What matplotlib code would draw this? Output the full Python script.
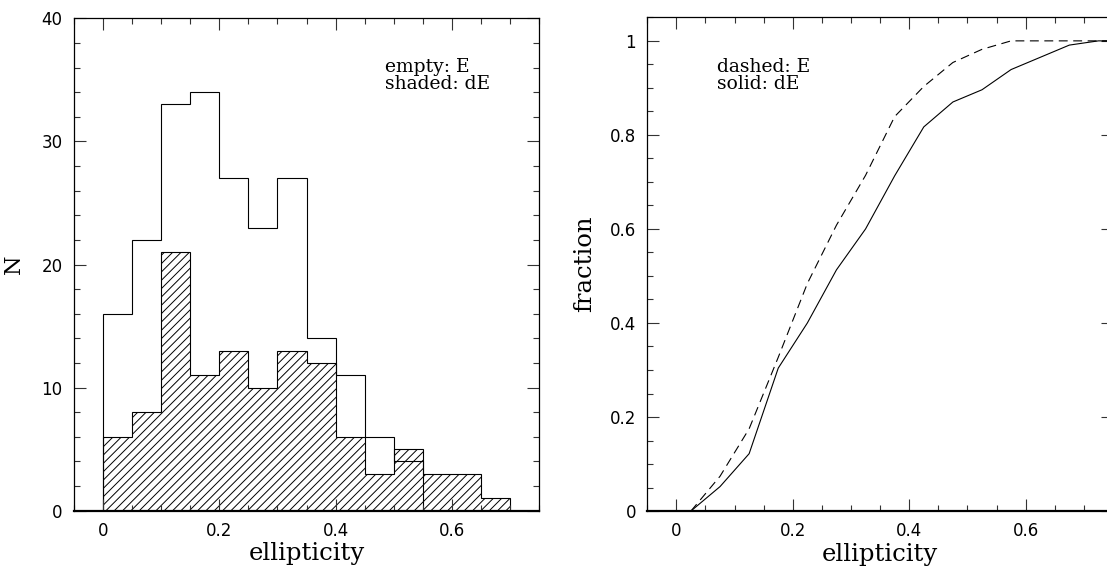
import numpy as np
import matplotlib
matplotlib.use("Agg")
import matplotlib.pyplot as plt

# ---- data ----
bin_edges = [0.0, 0.05, 0.10, 0.15, 0.20, 0.25, 0.30, 0.35, 0.40, 0.45, 0.50, 0.55, 0.60, 0.65, 0.70]
counts_E = [16, 22, 33, 34, 27, 23, 27, 14, 11, 6, 4]          # empty histogram (E), bins 0 .. 0.55
counts_dE = [6, 8, 21, 11, 13, 10, 13, 12, 6, 3, 5, 3, 3, 1]   # shaded histogram (dE), bins 0 .. 0.70

cdf_x = [0.025, 0.075, 0.125, 0.175, 0.225, 0.275, 0.325, 0.375, 0.425, 0.475,
         0.525, 0.575, 0.625, 0.675, 0.725, 0.775]
cdf_E = [0.0, 0.074, 0.175, 0.327, 0.484, 0.608, 0.714, 0.839, 0.903, 0.954,
         0.982, 1.0, 1.0, 1.0, 1.0, 1.0]
cdf_dE = [0.0, 0.052, 0.122, 0.304, 0.400, 0.513, 0.600, 0.713, 0.817, 0.870,
          0.896, 0.939, 0.965, 0.991, 1.0, 1.0]

x_ticks = [0, 0.2, 0.4, 0.6]
x_ticklabels = ["0", "0.2", "0.4", "0.6"]
left_yticks = [0, 10, 20, 30, 40]
right_yticks = [0, 0.2, 0.4, 0.6, 0.8, 1.0]
right_yticklabels = ["0", "0.2", "0.4", "0.6", "0.8", "1"]

plt.rcParams["hatch.linewidth"] = 0.7
SERIF = ["DejaVu Serif"]
TICKFONT = "DejaVu Sans"

fig = plt.figure(figsize=(11.07, 5.71), dpi=100)
axL = fig.add_axes([0.0666, 0.1056, 0.4206, 0.8623])
axR = fig.add_axes([0.5847, 0.1050, 0.4207, 0.8646])


def style(ax, ymajor, yminor):
    ax.set_xticks(x_ticks)
    ax.set_xticks(np.arange(-0.05, 0.751, 0.05), minor=True)
    ax.set_yticks(ymajor)
    ax.set_yticks(yminor, minor=True)
    ax.tick_params(which="both", direction="in", top=True, right=True,
                   color="#333333", width=0.8)
    ax.tick_params(which="major", length=8.5, pad=8, labelsize=12)
    ax.tick_params(which="minor", length=4.3)
    for s in ["top", "left", "right"]:
        ax.spines[s].set_linewidth(0.9)
    ax.spines["bottom"].set_linewidth(1.6)


# ---- left: histograms ----
edges_E = bin_edges[:len(counts_E) + 1]
axL.stairs(counts_dE, bin_edges, fill=True, facecolor="none", edgecolor="black",
           hatch="////", linewidth=0.8, baseline=0)
axL.stairs(counts_E, edges_E, fill=False, edgecolor="black", linewidth=0.8, baseline=0)
axL.set_xlim(-0.05, 0.75)
axL.set_ylim(0, 40)
style(axL, left_yticks, np.arange(0, 40.1, 2))
axL.set_xticklabels(x_ticklabels)
axL.set_yticklabels([str(v) for v in left_yticks])
for lab in axL.get_xticklabels() + axL.get_yticklabels():
    lab.set_fontfamily(TICKFONT)
axL.set_xlabel("ellipticity", fontsize=17.5, family=SERIF)
axL.set_ylabel("N", fontsize=16, family=SERIF)
axL.xaxis.set_label_coords(0.5, -0.064)
axL.yaxis.set_label_coords(-0.105, 0.5)
axL.text(0.484, 35.64, "empty: E", fontsize=13.5, family=SERIF, va="baseline")
axL.text(0.484, 34.26, "shaded: dE", fontsize=13.5, family=SERIF, va="baseline")

# ---- right: cumulative fractions ----
axR.plot(cdf_x, cdf_E, color="black", linewidth=0.8, dashes=(8, 5))
axR.plot(cdf_x, cdf_dE, color="black", linewidth=0.8)
axR.set_xlim(-0.05, 0.75)
axR.set_ylim(0, 1.05)
style(axR, right_yticks, np.arange(0, 1.051, 0.05))
axR.set_xticklabels(x_ticklabels)
axR.set_yticklabels(right_yticklabels)
for lab in axR.get_xticklabels() + axR.get_yticklabels():
    lab.set_fontfamily(TICKFONT)
axR.set_xlabel("ellipticity", fontsize=17.5, family=SERIF)
axR.set_ylabel("fraction", fontsize=17.5, family=SERIF)
axR.xaxis.set_label_coords(0.5, -0.064)
axR.yaxis.set_label_coords(-0.11, 0.5)
axR.text(0.07, 0.934, "dashed: E", fontsize=13.5, family=SERIF, va="baseline")
axR.text(0.07, 0.898, "solid: dE", fontsize=13.5, family=SERIF, va="baseline")

fig.savefig("out.png", dpi=100)
